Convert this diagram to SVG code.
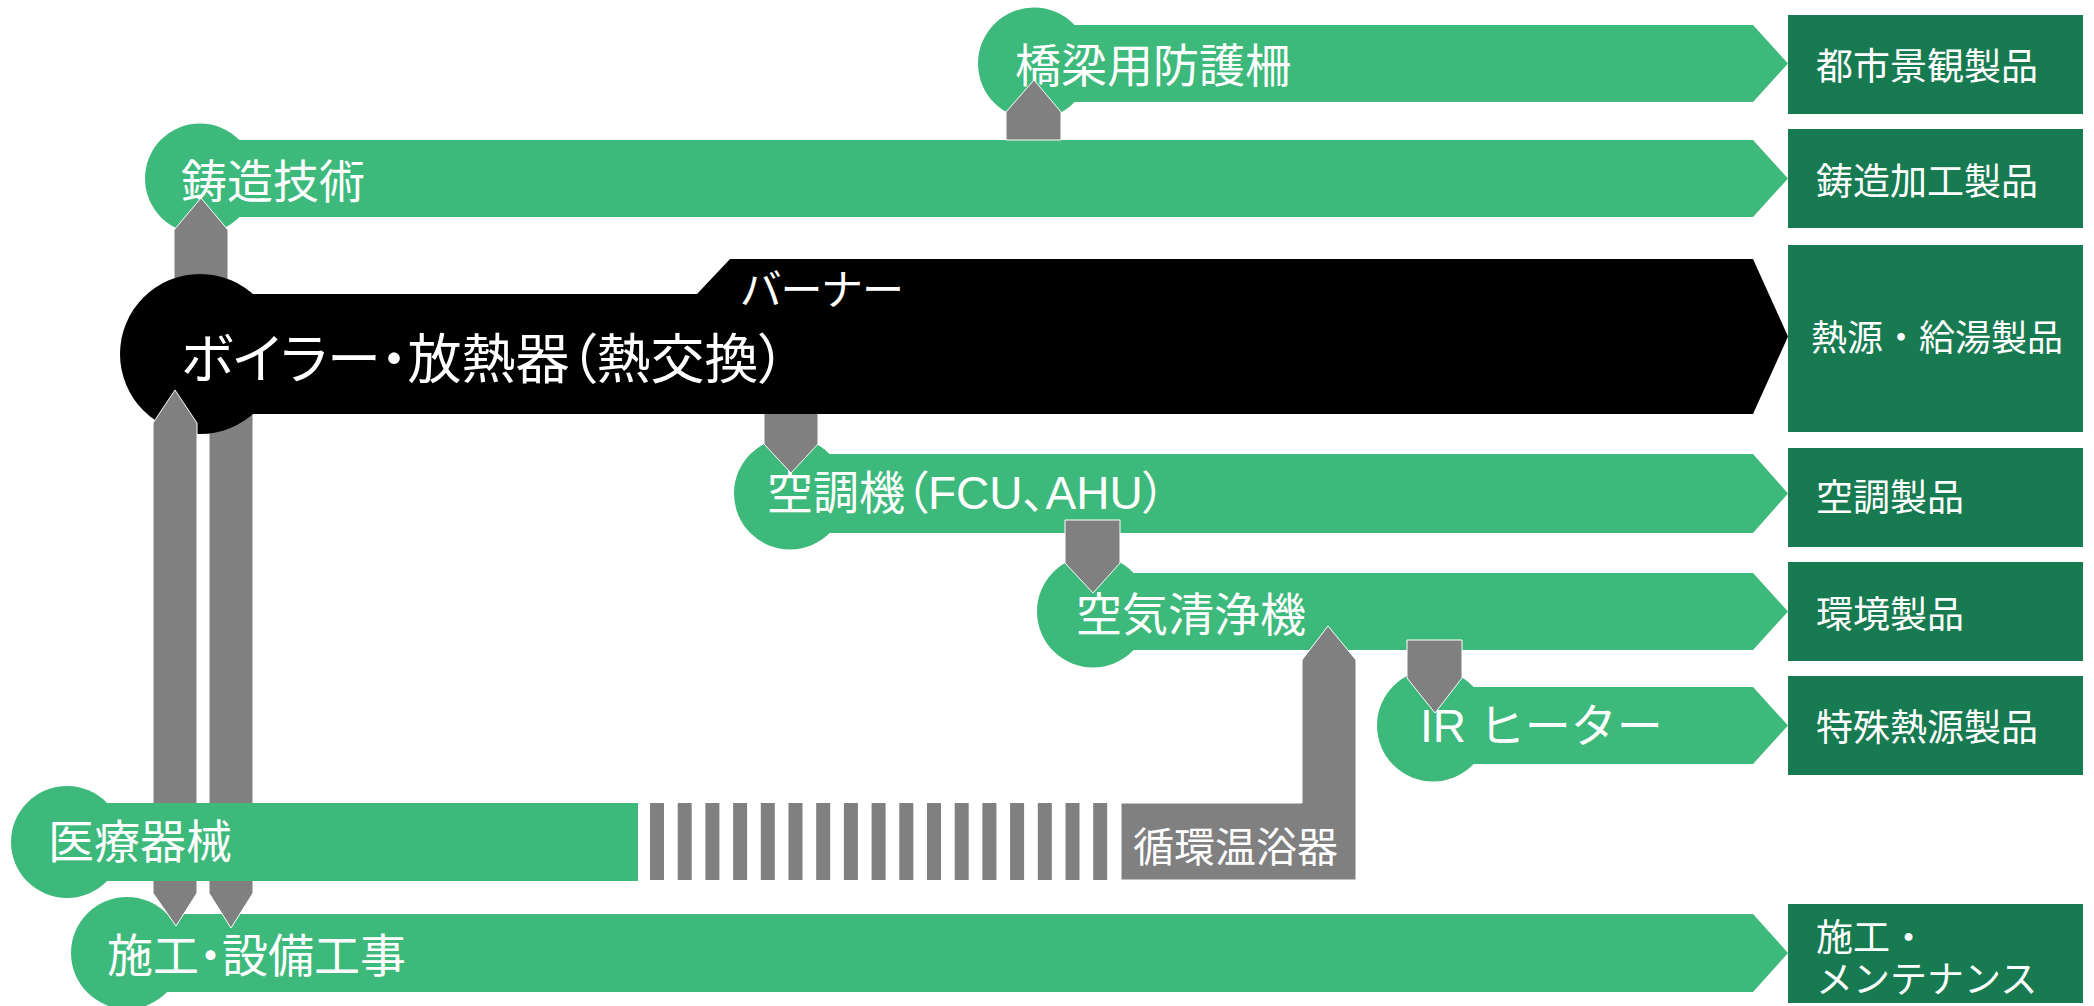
<svg xmlns="http://www.w3.org/2000/svg" width="2094" height="1006" viewBox="0 0 2094 1006">
<style>
  .g { fill: #3cb97b; }
  .k { fill: #000000; }
  .box { fill: #177a50; }
  .arr { fill: #808080; stroke: #ffffff; stroke-width: 1; }
  .gray { fill: #808080; }
  text { font-family: "Noto Sans CJK JP", "Noto Sans", sans-serif; fill: #ffffff; dominant-baseline: central; font-feature-settings: "palt" 1; }
  .lat { font-family: "Liberation Sans", "Noto Sans CJK JP", sans-serif; }
  .t46 { font-size: 46px; }
  .tb { font-size: 37px; font-feature-settings: normal; }
</style>
<rect width="2094" height="1006" fill="#ffffff"/>

<!-- product boxes -->
<g id="box-toshi"><rect class="box" x="1788" y="15" width="295" height="99"/><text class="tb" x="1816" y="64">都市景観製品</text></g>
<g id="box-chuzo"><rect class="box" x="1788" y="129" width="295" height="99"/><text class="tb" x="1816" y="179">鋳造加工製品</text></g>
<g id="box-netsugen"><rect class="box" x="1788" y="245" width="295" height="187"/><text class="tb" x="1811" y="335" style="font-size:36px">熱源・給湯製品</text></g>
<g id="box-kucho"><rect class="box" x="1788" y="448" width="295" height="99"/><text class="tb" x="1816" y="495">空調製品</text></g>
<g id="box-kankyo"><rect class="box" x="1788" y="562" width="295" height="99"/><text class="tb" x="1816" y="612">環境製品</text></g>
<g id="box-tokushu"><rect class="box" x="1788" y="676" width="295" height="99"/><text class="tb" x="1816" y="725">特殊熱源製品</text></g>
<g id="box-seko"><rect class="box" x="1788" y="904" width="295" height="99"/><text class="tb" x="1816" y="935"><tspan x="1816" y="935">施工・</tspan><tspan x="1816" y="977">メンテナンス</tspan></text></g>

<g id="node-seko">
  <circle class="g" cx="127" cy="953" r="56"/>
  <polygon class="g" points="127,914 1753,914 1788,953 1753,992 127,992"/>
  <text class="t46" x="107" y="952">施工・設備工事</text>
</g>

<g id="node-kyoryo">
  <circle class="g" cx="1034" cy="63.5" r="56"/>
  <polygon class="g" points="1034,25 1753,25 1788,63.5 1753,102 1034,102"/>
  <text class="t46" x="1015" y="62">橋梁用防護柵</text>
</g>

<g id="node-chuzo">
  <circle class="g" cx="200" cy="178.5" r="55"/>
  <polygon class="g" points="200,140 1753,140 1788,178.5 1753,217 200,217"/>
  <text class="t46" x="181" y="178">鋳造技術</text>
</g>

<g id="node-kucho">
  <circle class="g" cx="790" cy="493.5" r="56"/>
  <polygon class="g" points="790,454 1753,454 1788,493.5 1753,533 790,533"/>
  <text class="t46 lat" x="767" y="493">空調機（FCU、AHU）</text>
</g>

<g id="node-kuki">
  <circle class="g" cx="1093" cy="611.5" r="56"/>
  <polygon class="g" points="1093,573 1753,573 1788,611.5 1753,650 1093,650"/>
  <text class="t46" x="1076" y="611">空気清浄機</text>
</g>

<g id="node-ir">
  <circle class="g" cx="1433" cy="725.5" r="56"/>
  <polygon class="g" points="1433,687 1753,687 1788,725.5 1753,764 1433,764"/>
  <text class="lat" x="1420" y="726" style="font-size:46px; font-feature-settings: normal">IR ヒーター</text>
</g>

<g id="connectors">
  <polygon class="arr" points="1006,140 1006,112 1034,80 1061,112 1061,140"/>
  <polygon class="arr" points="174,290 174,230 201,198 228,230 228,290"/>
  <polygon class="arr" points="764,400 818,400 818,444 791,473 764,444"/>
  <polygon class="arr" points="1065,520 1120,520 1120,563 1093,593 1065,563"/>
  <polygon class="arr" points="1407,640 1462,640 1462,678 1435,713 1407,678"/>
  <polygon class="arr" points="209,380 253,380 253,893 231,928 209,893"/>
</g>

<g id="node-boiler">
  <circle class="k" cx="200" cy="354" r="80"/>
  <polygon class="k" points="200,294 697,294 730,259 1753,259 1788,336.5 1753,414 200,414"/>
  <text x="181" y="355" style="font-size:54px">ボイラー・放熱器（熱交換）</text>
  <text x="741" y="286" style="font-size:42px">バーナー</text>
</g>

<g id="connectors-2">
  <polygon class="arr" points="153,423 175,390 197,423 197,893 176,926 153,893"/>
</g>

<g id="node-iryo">
  <circle class="g" cx="67" cy="842" r="56"/>
  <rect class="g" x="67" y="803" width="571" height="78"/>
  <text class="t46" x="48" y="838">医療器械</text>
</g>

<g id="connector-stripes">
  <rect class="gray" x="650" y="803" width="14" height="77"/>
  <rect class="gray" x="677.7" y="803" width="14" height="77"/>
  <rect class="gray" x="705.4" y="803" width="14" height="77"/>
  <rect class="gray" x="733.1" y="803" width="14" height="77"/>
  <rect class="gray" x="760.8" y="803" width="14" height="77"/>
  <rect class="gray" x="788.5" y="803" width="14" height="77"/>
  <rect class="gray" x="816.2" y="803" width="14" height="77"/>
  <rect class="gray" x="843.9" y="803" width="14" height="77"/>
  <rect class="gray" x="871.6" y="803" width="14" height="77"/>
  <rect class="gray" x="899.3" y="803" width="14" height="77"/>
  <rect class="gray" x="927" y="803" width="14" height="77"/>
  <rect class="gray" x="954.7" y="803" width="14" height="77"/>
  <rect class="gray" x="982.4" y="803" width="14" height="77"/>
  <rect class="gray" x="1010.1" y="803" width="14" height="77"/>
  <rect class="gray" x="1037.8" y="803" width="14" height="77"/>
  <rect class="gray" x="1065.5" y="803" width="14" height="77"/>
  <rect class="gray" x="1093.2" y="803" width="14" height="77"/>
</g>

<g id="node-junkan">
  <polygon class="arr" points="1121,803 1302,803 1302,660 1328,626 1356,660 1356,880 1121,880"/>
  <text x="1133" y="844" style="font-size:41px">循環温浴器</text>
</g>
</svg>
